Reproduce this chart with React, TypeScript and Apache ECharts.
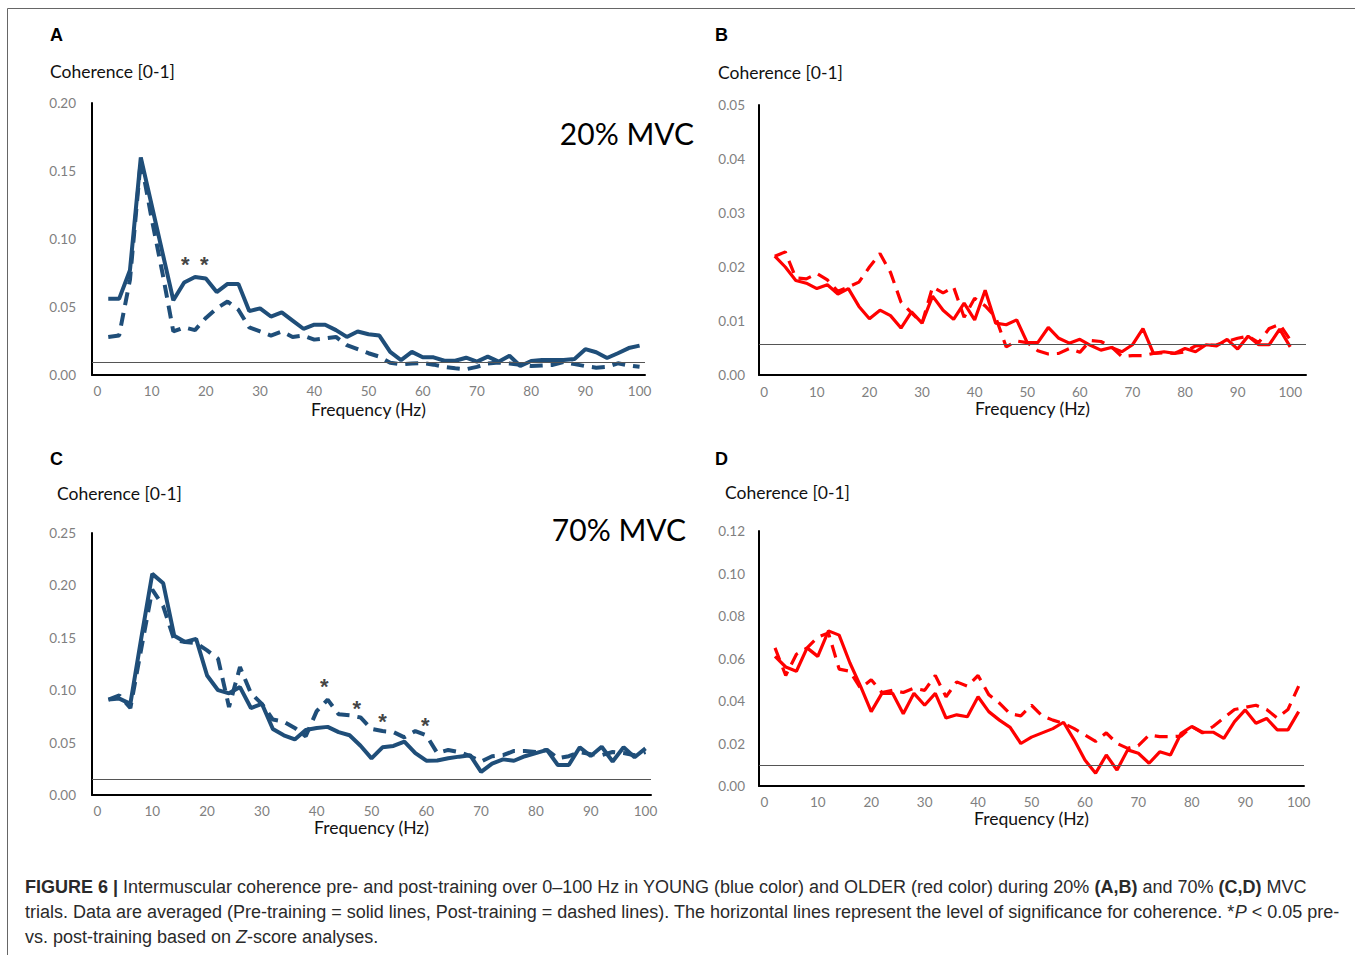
import React, { useEffect, useRef } from 'react';
import * as echarts from 'echarts';

// Frequencies (Hz)
const freq = [2, 4, 6, 8, 10, 12, 14, 16, 18, 20, 22, 24, 26, 28, 30, 32, 34, 36, 38, 40, 42, 44, 46, 48, 50,
  52, 54, 56, 58, 60, 62, 64, 66, 68, 70, 72, 74, 76, 78, 80, 82, 84, 86, 88, 90, 92, 94, 96, 98, 100];
const xTicks = [0, 10, 20, 30, 40, 50, 60, 70, 80, 90, 100];

// Panel A — YOUNG, 20% MVC
const aPre = [0.056, 0.056, 0.077, 0.160, 0.125, 0.090, 0.055, 0.068, 0.072, 0.071, 0.061, 0.067, 0.067, 0.047, 0.049,
  0.043, 0.046, 0.040, 0.034, 0.037, 0.037, 0.033, 0.028, 0.032, 0.030, 0.029, 0.017, 0.011, 0.017, 0.013,
  0.013, 0.0105, 0.0105, 0.0127, 0.0098, 0.0135, 0.0098, 0.0142, 0.0066, 0.0103, 0.011, 0.011, 0.011, 0.0118, 0.019,
  0.0167, 0.0125, 0.016, 0.0198, 0.0216];
const aPost = [0.028, 0.029, 0.070, 0.158, 0.115, 0.075, 0.032, 0.035, 0.033, 0.042, 0.049, 0.054, 0.048, 0.035, 0.032,
  0.029, 0.032, 0.028, 0.029, 0.026, 0.027, 0.028, 0.022, 0.019, 0.016, 0.0135, 0.009, 0.0078, 0.0085, 0.0088,
  0.0076, 0.006, 0.005, 0.0042, 0.006, 0.0085, 0.0092, 0.0085, 0.0075, 0.0066, 0.007, 0.0074, 0.0095, 0.008, 0.0065,
  0.0054, 0.006, 0.0086, 0.007, 0.006];
// Panel B — OLDER, 20% MVC
const bPre = [0.022, 0.020, 0.0175, 0.017, 0.016, 0.0167, 0.015, 0.016, 0.0127, 0.0104, 0.012, 0.011, 0.0087, 0.0117, 0.0096,
  0.0146, 0.012, 0.0103, 0.0133, 0.0102, 0.0157, 0.0096, 0.0093, 0.0102, 0.006, 0.006, 0.0088, 0.0068, 0.0059, 0.0066,
  0.0055, 0.0046, 0.0051, 0.0043, 0.0056, 0.0086, 0.004, 0.0043, 0.004, 0.0049, 0.0043, 0.0056, 0.0054, 0.0066, 0.0048,
  0.0072, 0.0056, 0.0056, 0.0085, 0.0052];
const bPost = [0.022, 0.0228, 0.018, 0.0178, 0.0188, 0.0176, 0.0155, 0.0163, 0.0172, 0.020, 0.0225, 0.019, 0.0135, 0.0115, 0.0096,
  0.0163, 0.0152, 0.0163, 0.0107, 0.0142, 0.0128, 0.0107, 0.0052, 0.0063, 0.006, 0.0045, 0.0039, 0.004, 0.0049, 0.0042,
  0.0064, 0.0062, 0.0052, 0.0034, 0.0036, 0.0036, 0.004, 0.0041, 0.004, 0.0043, 0.0054, 0.0055, 0.0056, 0.0062, 0.0068,
  0.0072, 0.006, 0.0086, 0.0094, 0.0065];
// Panel C — YOUNG, 70% MVC
const cPre = [0.091, 0.092, 0.087, 0.150, 0.211, 0.202, 0.152, 0.146, 0.149, 0.114, 0.100, 0.097, 0.103, 0.083, 0.087,
  0.063, 0.057, 0.053, 0.062, 0.064, 0.065, 0.060, 0.057, 0.047, 0.035, 0.0455, 0.0468, 0.051, 0.040, 0.0327,
  0.033, 0.035, 0.0366, 0.038, 0.022, 0.030, 0.034, 0.0327, 0.037, 0.040, 0.043, 0.0286, 0.0286, 0.0455, 0.0372,
  0.046, 0.032, 0.0455, 0.036, 0.0445];
const cPost = [0.091, 0.095, 0.083, 0.140, 0.196, 0.180, 0.148, 0.146, 0.145, 0.138, 0.130, 0.084, 0.122, 0.097, 0.087,
  0.072, 0.070, 0.064, 0.056, 0.080, 0.091, 0.077, 0.076, 0.074, 0.063, 0.061, 0.060, 0.055, 0.061, 0.057,
  0.040, 0.043, 0.041, 0.037, 0.032, 0.037, 0.038, 0.042, 0.042, 0.041, 0.043, 0.035, 0.037, 0.041, 0.039,
  0.038, 0.041, 0.040, 0.038, 0.041];
// Panel D — OLDER, 70% MVC
const dPre = [0.061, 0.056, 0.054, 0.065, 0.061, 0.073, 0.071, 0.058, 0.047, 0.035, 0.0436, 0.0436, 0.034, 0.0436, 0.038,
  0.0436, 0.032, 0.0335, 0.0326, 0.042, 0.035, 0.031, 0.0276, 0.020, 0.023, 0.025, 0.027, 0.030, 0.0216, 0.0122,
  0.006, 0.0146, 0.0075, 0.017, 0.0154, 0.0107, 0.0161, 0.0146, 0.0248, 0.028, 0.0253, 0.0253, 0.0224, 0.0303, 0.0358,
  0.0295, 0.0318, 0.0264, 0.0264, 0.035];
const dPost = [0.065, 0.052, 0.062, 0.065, 0.070, 0.072, 0.055, 0.054, 0.046, 0.050, 0.044, 0.045, 0.044, 0.046, 0.045,
  0.052, 0.042, 0.049, 0.047, 0.052, 0.043, 0.039, 0.034, 0.033, 0.038, 0.033, 0.031, 0.0295, 0.027, 0.024,
  0.021, 0.025, 0.020, 0.0177, 0.019, 0.024, 0.0232, 0.0232, 0.0235, 0.028, 0.025, 0.028, 0.032, 0.036, 0.037,
  0.038, 0.036, 0.032, 0.036, 0.047];

// Significance levels
const sigA = 0.0095;
const sigB = 0.0057;
const sigC = 0.015;
const sigD = 0.01;

// Significant differences (* markers)
const starsA = [[16.2, 0.085], [19.7, 0.085]];
const starsC = [[41.4, 0.108], [47.3, 0.087], [52.0, 0.075], [59.8, 0.071]];

const BLUE = '#1f4e79';
const RED = '#ff0000';
const FONT = 'Lato, "Open Sans", sans-serif';
const TICK_GRAY = '#7f7f7f';

const pairs = (ys: number[]) => freq.map((f, i) => [f, ys[i]]);

export default function App() {
  const ref = useRef<HTMLDivElement>(null);

  useEffect(() => {
    if (!ref.current) return;
    const chart = echarts.init(ref.current, undefined, { renderer: 'svg' });

    const panels = [
      { grid: { left: 92, top: 103, width: 553, height: 272 }, xmin: -1, xmax: 101, ymax: 0.2, yint: 0.05, pre: aPre, post: aPost, sig: sigA, color: BLUE, nameGap: 25, labMargin: 9, yMargin: 16, stars: starsA },
      { grid: { left: 759, top: 105, width: 547, height: 270 }, xmin: -1, xmax: 103, ymax: 0.05, yint: 0.01, pre: bPre, post: bPost, sig: sigB, color: RED, nameGap: 21, labMargin: 10, yMargin: 14, stars: [] },
      { grid: { left: 92, top: 533, width: 559, height: 262 }, xmin: -1, xmax: 101, ymax: 0.25, yint: 0.05, pre: cPre, post: cPost, sig: sigC, color: BLUE, nameGap: 21, labMargin: 9, yMargin: 16, stars: starsC },
      { grid: { left: 759, top: 531, width: 545, height: 255 }, xmin: -1, xmax: 101, ymax: 0.12, yint: 0.02, pre: dPre, post: dPost, sig: sigD, color: RED, nameGap: 20, labMargin: 9, yMargin: 14, stars: [] },
    ];

    const grid = panels.map((p) => ({ ...p.grid }));
    const xAxis = panels.map((p, i) => ({
      type: 'value',
      gridIndex: i,
      min: p.xmin,
      max: p.xmax,
      axisLine: { show: true, onZero: true, lineStyle: { color: '#000', width: 2 } },
      axisTick: { show: false },
      splitLine: { show: false },
      axisLabel: { customValues: xTicks, color: TICK_GRAY, fontSize: 13.5, fontFamily: FONT, margin: p.labMargin },
      name: 'Frequency (Hz)',
      nameLocation: 'middle',
      nameGap: p.nameGap,
      nameTextStyle: { color: '#111', fontSize: 17.5, fontFamily: FONT },
    }));
    const yAxis = panels.map((p, i) => ({
      type: 'value',
      gridIndex: i,
      min: 0,
      max: p.ymax,
      interval: p.yint,
      axisLine: { show: true, onZero: false, lineStyle: { color: '#000', width: 2 } },
      axisTick: { show: false },
      splitLine: { show: false },
      axisLabel: { color: TICK_GRAY, fontSize: 13.5, fontFamily: FONT, margin: p.yMargin, formatter: (v: number) => v.toFixed(2) },
    }));

    const series: any[] = [];
    panels.forEach((p, i) => {
      const w = p.color === BLUE ? 4 : 3.2;
      series.push({
        type: 'line', xAxisIndex: i, yAxisIndex: i, data: pairs(p.post), symbol: 'none',
        lineStyle: { color: p.color, width: w, type: [13, 8] },
        z: 3,
      });
      series.push({
        type: 'line', xAxisIndex: i, yAxisIndex: i, data: pairs(p.pre), symbol: 'none',
        lineStyle: { color: p.color, width: w, type: 'solid' },
        z: 4,
        markLine: {
          silent: true, symbol: ['none', 'none'], label: { show: false }, precision: 6,
          lineStyle: { color: '#555', width: 1, type: 'solid' },
          data: [{ yAxis: p.sig }],
        },
      });
      if (p.stars.length) {
        series.push({
          type: 'scatter', xAxisIndex: i, yAxisIndex: i, data: p.stars, symbolSize: 1,
          itemStyle: { color: 'rgba(0,0,0,0)' },
          label: {
            show: true, position: 'inside', formatter: '*', color: '#111', fontSize: 22, fontWeight: 'bold',
            fontFamily: '"Liberation Sans", Arial, sans-serif', offset: [0, 5],
          },
          z: 5,
        });
      }
    });

    const txt = (text: string, x: number, y: number, style: any) => ({
      type: 'text', x, y, silent: true,
      style: { text, verticalAlign: 'middle', fill: '#111', fontFamily: FONT, ...style },
    });
    const capFont = '"Liberation Sans", Arial, sans-serif';
    const capRich = {
      b: { fontWeight: 'bold', fontSize: 18, fontFamily: capFont, fill: '#2a2a2a' },
      i: { fontStyle: 'italic', fontSize: 18, fontFamily: capFont, fill: '#2a2a2a' },
    };
    const letter = { fontFamily: '"Liberation Sans", Arial, sans-serif', fontWeight: 'bold', fontSize: 18, fill: '#000' };
    const capStyle = { fontSize: 18, fontFamily: capFont, fill: '#2a2a2a', rich: capRich };

    const graphic = [
      { type: 'line', silent: true, shape: { x1: 7.5, y1: 8.5, x2: 1355, y2: 8.5 }, style: { stroke: '#666', lineWidth: 1 } },
      { type: 'line', silent: true, shape: { x1: 7.5, y1: 8.5, x2: 7.5, y2: 955 }, style: { stroke: '#666', lineWidth: 1 } },
      txt('A', 50, 35, letter),
      txt('B', 715, 35, letter),
      txt('C', 50, 459, letter),
      txt('D', 715, 459, letter),
      txt('Coherence [0-1]', 50, 71, { fontSize: 17.5 }),
      txt('Coherence [0-1]', 718, 72, { fontSize: 17.5 }),
      txt('Coherence [0-1]', 57, 493, { fontSize: 17.5 }),
      txt('Coherence [0-1]', 725, 492, { fontSize: 17.5 }),
      txt('20% MVC', 694, 133, { fontSize: 30, align: 'right', fill: '#000' }),
      txt('70% MVC', 686, 529, { fontSize: 30, align: 'right', fill: '#000' }),
      txt('{b|FIGURE 6 |} Intermuscular coherence pre- and post-training over 0–100 Hz in YOUNG (blue color) and OLDER (red color) during 20% {b|(A,B)} and 70% {b|(C,D)} MVC', 25, 887, capStyle),
      txt('trials. Data are averaged (Pre-training = solid lines, Post-training = dashed lines). The horizontal lines represent the level of significance for coherence. *{i|P} < 0.05 pre-', 25, 912, capStyle),
      txt('vs. post-training based on {i|Z}-score analyses.', 25, 937, capStyle),
    ];

    chart.setOption({
      animation: false,
      backgroundColor: '#fff',
      grid, xAxis, yAxis, series, graphic,
    } as any);

    return () => chart.dispose();
  }, []);

  return <div ref={ref} style={{ position: 'absolute', left: 0, top: 0, width: 1355, height: 955, background: '#fff' }} />;
}
